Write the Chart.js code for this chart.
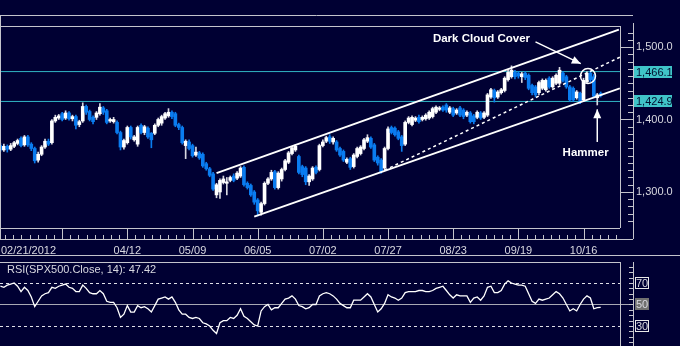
<!DOCTYPE html>
<html>
<head>
<meta charset="utf-8">
<script src="https://cdn.jsdelivr.net/npm/chart.js@4.4.0/dist/chart.umd.min.js"></script>
<style>
  html, body { margin: 0; padding: 0; background: #000033; }
  #wrap { position: relative; width: 680px; height: 346px; overflow: hidden; background: #000033; }
  #wrap canvas { position: absolute; left: 0; }
</style>
</head>
<body>
<div id="wrap">
  <canvas id="priceChart" width="680" height="258" style="top:0"></canvas>
  <canvas id="rsiChart" width="680" height="88" style="top:258px"></canvas>
</div>
<script>
// SPX500 daily candles, one entry per session (index 1 = first bar on screen)
const openPx = [
  1364,1358,1363,1359,1363,1367,1374,1365,1376,1366,1360,1344,1352,1362,1370,1368,1398,1402,1408,1402,
  1409,1401,1404,1393,1398,1418,1411,1403,1403,1408,1416,1412,1398,1397,1396,1382,1362,1368,1389,1372,
  1366,1392,1382,1388,1381,1381,1392,1395,1402,1405,1410,1408,1393,1389,1364,1369,1364,1351,1354,1352,
  1339,1332,1325,1296,1300,1313,1312,1316,1322,1319,1322,1334,1312,1309,1300,1289,1272,1284,1312,1318,
  1328,1306,1318,1331,1341,1353,1358,1349,1335,1333,1314,1318,1334,1331,1364,1370,1376,1369,1369,1360,
  1356,1341,1346,1335,1349,1353,1360,1370,1374,1365,1348,1344,1333,1360,1389,1388,1383,1376,1366,1396,
  1393,1399,1403,1400,1401,1402,1404,1410,1414,1417,1420,1410,1415,1409,1416,1413,1406,1409,1405,1403,
  1409,1403,1406,1431,1440,1431,1437,1440,1455,1459,1465,1464,1459,1464,1461,1447,1445,1437,1443,1441,
  1457,1445,1450,1450,1464,1459,1445,1443,1430,1436,1427,1452,1464,1459,1430,1436
];
const highPx = [
  1367,1366,1365,1367,1370,1373,1376,1378,1378,1368,1362,1355,1364,1373,1373,1400,1406,1407,1410,1412,
  1411,1406,1406,1399,1423,1420,1413,1405,1411,1422,1418,1414,1402,1403,1398,1384,1373,1391,1391,1378,
  1391,1394,1392,1390,1382,1394,1402,1406,1410,1415,1412,1410,1395,1391,1372,1372,1366,1362,1356,1354,
  1341,1334,1327,1312,1318,1322,1320,1322,1325,1328,1335,1336,1314,1311,1302,1291,1286,1314,1320,1330,
  1330,1328,1333,1345,1356,1363,1365,1351,1337,1335,1324,1335,1336,1366,1372,1377,1379,1376,1371,1362,
  1358,1347,1348,1353,1362,1364,1374,1379,1376,1367,1350,1346,1362,1390,1391,1390,1385,1378,1398,1404,
  1405,1404,1406,1405,1408,1412,1417,1419,1418,1419,1422,1418,1417,1415,1418,1415,1412,1411,1407,1412,
  1411,1411,1436,1443,1442,1440,1443,1459,1468,1474,1468,1466,1465,1466,1463,1449,1447,1453,1456,1456,
  1459,1459,1463,1472,1466,1461,1447,1445,1440,1438,1457,1466,1467,1462,1436,1438
];
const lowPx = [
  1356,1356,1355,1357,1361,1365,1362,1363,1363,1357,1340,1341,1350,1360,1364,1366,1396,1400,1398,1400,
  1399,1398,1387,1390,1396,1407,1398,1394,1400,1406,1407,1394,1396,1395,1380,1358,1359,1366,1373,1370,
  1363,1380,1379,1374,1361,1379,1390,1392,1400,1403,1401,1390,1386,1366,1346,1358,1348,1349,1345,1334,
  1330,1321,1302,1292,1291,1311,1296,1314,1314,1317,1320,1308,1304,1294,1283,1267,1268,1282,1310,1316,
  1304,1304,1315,1329,1339,1351,1356,1325,1321,1310,1309,1316,1325,1329,1362,1368,1367,1366,1356,1349,
  1342,1339,1331,1333,1347,1351,1358,1368,1360,1342,1337,1326,1330,1358,1380,1377,1372,1356,1364,1394,
  1391,1397,1395,1398,1399,1400,1402,1408,1412,1411,1410,1408,1404,1407,1404,1401,1404,1395,1394,1401,
  1400,1401,1404,1429,1424,1429,1435,1438,1453,1457,1456,1457,1451,1455,1441,1434,1431,1434,1441,1439,
  1443,1443,1448,1448,1452,1443,1425,1425,1428,1422,1425,1450,1452,1430,1420,1431
];
const closePx = [
  1358,1363,1359,1364,1368,1371,1364,1376,1365,1360,1343,1352,1362,1370,1366,1398,1403,1405,1400,1409,
  1401,1404,1392,1397,1418,1410,1400,1397,1409,1417,1410,1396,1400,1400,1382,1362,1371,1389,1376,1376,
  1389,1382,1390,1376,1372,1392,1400,1404,1408,1410,1404,1392,1389,1368,1370,1360,1350,1355,1347,1336,
  1332,1323,1304,1310,1316,1318,1314,1320,1316,1326,1333,1310,1306,1296,1286,1274,1284,1312,1318,1327,
  1306,1326,1331,1343,1354,1361,1363,1327,1324,1314,1322,1333,1327,1364,1369,1375,1370,1374,1358,1351,
  1344,1345,1334,1351,1360,1362,1372,1375,1362,1344,1340,1328,1360,1387,1382,1379,1374,1364,1396,1402,
  1403,1402,1397,1403,1406,1410,1415,1417,1416,1413,1413,1416,1406,1413,1406,1404,1410,1397,1397,1410,
  1402,1409,1434,1441,1430,1438,1441,1457,1465,1468,1459,1460,1463,1458,1443,1437,1434,1451,1454,1454,
  1445,1457,1461,1468,1454,1445,1427,1427,1438,1424,1454,1464,1455,1432,1434,1433
];
// RSI(14) of the closes
const rsiVals = [
  67,66,68,69,70,67,62,66,63,57,48,53,58,60,61,66,65,67,68,69,
  66,65,62,62,68,65,61,60,60,63,60,53,52,52,47,38,41,49,43,43,
  49,47,48,46,43,49,55,56,57,55,57,52,45,41,41,38,37,38,37,33,
  32,30,26,23,33,35,35,38,37,40,46,39,37,34,31,30,44,48,50,45,
  47,47,51,55,56,58,55,49,48,46,47,50,50,58,60,61,60,58,55,51,
  49,47,47,54,54,54,57,60,57,50,43,46,51,59,57,56,54,56,61,62,
  62,62,63,63,62,62,63,65,66,67,63,59,56,59,58,58,58,52,56,57,
  54,58,66,67,61,61,63,69,72,70,69,68,68,67,60,53,51,55,54,55,
  56,59,62,60,56,50,44,46,44,50,55,58,56,46,47,47.42
];

// x-axis dates: every 19th session
const dateTicks = [0, 19, 38, 57, 76, 95, 114, 133, 152, 171];
const dateLabels = ['02/21/2012', '', '04/12', '05/09', '06/05', '07/02', '07/27', '08/23', '09/19', '10/16'];
const priceLabels = [1300, 1400, 1500];

// horizontal support / resistance
const levels = [1466.1, 1424.9];

// trend channel: [startIdx, startPrice, endIdx, endPrice]
const channelTop = [64, 1326, 181.3, 1524];
const channelBottom = [75, 1266, 181.6, 1443];
const channelMid = [113, 1330, 181.6, 1486];

const rsiLevels = [70, 50, 30];

const xMin = 0.875, xMax = 181.63;
const BG = '#000033';
const FRAME = '#c4c4cc';
const TEXT = '#d8d8e0';
const BLUE = '#0a7cf0';
const TEAL = '#30b4c4';
const FONT = '"Liberation Sans", Arial, sans-serif';

const idx = closePx.map((_, i) => i + 1);
const up = idx.map((_, i) => closePx[i] >= openPx[i]);
const candleColor = up.map(u => u ? '#ffffff' : BLUE);
const wickColor = up.map(u => u ? '#d8d8e0' : BLUE);

function seg(a) {
  return [{ x: a[0], y: a[1] }, { x: a[2], y: a[3] }];
}

function fmtPrice(v) {
  return v.toLocaleString('en-US', { minimumFractionDigits: 1, maximumFractionDigits: 1 });
}

function hline(ctx, x1, x2, y) {
  ctx.beginPath(); ctx.moveTo(x1, Math.round(y) + 0.5); ctx.lineTo(x2, Math.round(y) + 0.5); ctx.stroke();
}
function vline(ctx, x, y1, y2) {
  ctx.beginPath(); ctx.moveTo(Math.round(x) + 0.5, y1); ctx.lineTo(Math.round(x) + 0.5, y2); ctx.stroke();
}

function arrow(ctx, x1, y1, x2, y2) {
  const a = Math.atan2(y2 - y1, x2 - x1);
  ctx.beginPath(); ctx.moveTo(x1, y1); ctx.lineTo(x2, y2); ctx.stroke();
  const len = 9, half = 4;
  ctx.beginPath();
  ctx.moveTo(x2, y2);
  ctx.lineTo(x2 - len * Math.cos(a) + half * Math.sin(a), y2 - len * Math.sin(a) - half * Math.cos(a));
  ctx.lineTo(x2 - len * Math.cos(a) - half * Math.sin(a), y2 - len * Math.sin(a) + half * Math.cos(a));
  ctx.closePath();
  ctx.fill();
}

const bgPlugin = {
  id: 'bg',
  beforeDraw(chart) {
    const ctx = chart.ctx;
    ctx.save();
    ctx.fillStyle = BG;
    ctx.fillRect(0, 0, chart.width, chart.height);
    ctx.restore();
  }
};

// frame, axes and the notes on the price panel
const priceDecor = {
  id: 'priceDecor',
  afterDraw(chart) {
    const ctx = chart.ctx;
    const xs = chart.scales.x, ys = chart.scales.y;
    const a = chart.chartArea;
    const axisX = a.right + 13;
    const stripBottom = a.bottom + 11;
    ctx.save();
    ctx.strokeStyle = FRAME;
    ctx.lineWidth = 1;

    // caption strip and plot frame
    hline(ctx, 0, axisX, 15);
    hline(ctx, 0, a.right, a.top);
    vline(ctx, 0, 15, stripBottom);
    vline(ctx, a.right, a.top, a.bottom);
    hline(ctx, 0, a.right, a.bottom);
    hline(ctx, 0, axisX, stripBottom);
    vline(ctx, axisX, 23, stripBottom);
    hline(ctx, 0, chart.width, 255);

    // price axis ticks
    for (let v = 1260; v <= 1520; v += 10) {
      const y = ys.getPixelForValue(v);
      if (y < a.top || y > a.bottom) continue;
      if (v % 100 === 0) hline(ctx, a.right, axisX, y);
      else hline(ctx, axisX - 5, axisX, y);
    }
    ctx.fillStyle = TEXT;
    ctx.font = '11px ' + FONT;
    ctx.textBaseline = 'middle';
    ctx.textAlign = 'left';
    priceLabels.forEach(v => ctx.fillText(fmtPrice(v), axisX + 3, ys.getPixelForValue(v)));

    // level lines' value tags
    levels.forEach(v => {
      const y = Math.round(ys.getPixelForValue(v));
      ctx.fillStyle = '#40c4c8';
      ctx.fillRect(axisX + 1, y - 6, 38, 12);
      ctx.fillStyle = '#001030';
      ctx.fillText(fmtPrice(v), axisX + 3, y + 0.5);
    });

    // date axis
    const step = 19;
    for (let t = 0; t <= xMax; t += step / 8) {
      const x = xs.getPixelForValue(t);
      if (x < 0 || x > a.right) continue;
      const major = Math.abs(t / step - Math.round(t / step)) < 1e-6;
      if (major) vline(ctx, x, a.bottom, stripBottom);
      else vline(ctx, x, stripBottom - 4, stripBottom);
    }
    ctx.fillStyle = TEXT;
    ctx.textAlign = 'left';
    dateTicks.forEach((t, k) => {
      const txt = dateLabels[k];
      if (!txt) return;
      const w = ctx.measureText(txt).width;
      const x = Math.max(1, xs.getPixelForValue(t) - w / 2);
      ctx.fillText(txt, x, a.bottom + 23);
    });

    // notes
    ctx.strokeStyle = '#ffffff';
    ctx.fillStyle = '#ffffff';
    ctx.lineWidth = 1.5;
    ctx.font = 'bold 11.5px ' + FONT;
    ctx.textAlign = 'right';
    ctx.fillText('Dark Cloud Cover', xs.getPixelForValue(155.4), ys.getPixelForValue(1511));
    arrow(ctx, xs.getPixelForValue(157), ys.getPixelForValue(1507),
      xs.getPixelForValue(170.2), ys.getPixelForValue(1477));
    ctx.beginPath();
    ctx.arc(xs.getPixelForValue(172.3), ys.getPixelForValue(1460), 7.5, 0, Math.PI * 2);
    ctx.stroke();
    arrow(ctx, xs.getPixelForValue(175), ys.getPixelForValue(1369),
      xs.getPixelForValue(175), ys.getPixelForValue(1414));
    ctx.textAlign = 'center';
    ctx.fillText('Hammer', xs.getPixelForValue(171.6), ys.getPixelForValue(1354));
    ctx.restore();
  }
};

new Chart(document.getElementById('priceChart'), {
  type: 'bar',
  data: {
    datasets: [
      {
        type: 'line', order: 1,
        data: seg(channelTop), borderColor: '#ffffff', borderWidth: 2, pointRadius: 0
      },
      {
        type: 'line', order: 1,
        data: seg(channelBottom), borderColor: '#ffffff', borderWidth: 2, pointRadius: 0
      },
      {
        type: 'line', order: 1,
        data: seg(channelMid), borderColor: '#ffffff', borderWidth: 1.5, borderDash: [3, 3], pointRadius: 0
      },
      {
        order: 3, grouped: false, barThickness: 3,
        data: idx.map((x, i) => ({ x, y: [openPx[i], closePx[i]] })),
        backgroundColor: candleColor
      },
      {
        order: 4, grouped: false, barThickness: 1,
        data: idx.map((x, i) => ({ x, y: [lowPx[i], highPx[i]] })),
        backgroundColor: wickColor
      },
      ...levels.map(v => ({
        type: 'line', order: 9,
        data: [{ x: xMin, y: v }, { x: xMax, y: v }],
        borderColor: TEAL, borderWidth: 1, pointRadius: 0
      }))
    ]
  },
  options: {
    responsive: false,
    devicePixelRatio: 1,
    animation: false,
    layout: { padding: { left: 0, right: 60, top: 26, bottom: 30 } },
    plugins: { legend: { display: false }, tooltip: { enabled: false } },
    scales: {
      x: { type: 'linear', min: xMin, max: xMax, offset: false, display: false },
      y: { type: 'linear', min: 1250.3, max: 1529.0, display: false }
    }
  },
  plugins: [bgPlugin, priceDecor]
});

// RSI panel
const rsiDecor = {
  id: 'rsiDecor',
  beforeDatasetsDraw(chart) {
    const ctx = chart.ctx;
    const ys = chart.scales.y;
    const a = chart.chartArea;
    const axisX = a.right + 13;
    ctx.save();
    ctx.lineWidth = 1;
    ctx.strokeStyle = '#a8a8b4';
    hline(ctx, 0, axisX, ys.getPixelForValue(50));
    ctx.strokeStyle = '#e0e0e8';
    ctx.setLineDash([3, 3]);
    hline(ctx, 0, a.right, ys.getPixelForValue(70));
    hline(ctx, 0, a.right, ys.getPixelForValue(30));
    ctx.restore();
  },
  afterDraw(chart) {
    const ctx = chart.ctx;
    const ys = chart.scales.y;
    const a = chart.chartArea;
    const axisX = a.right + 13;
    ctx.save();
    ctx.strokeStyle = FRAME;
    ctx.lineWidth = 1;
    hline(ctx, 0, a.right, a.top);
    vline(ctx, a.right, a.top, chart.height);
    vline(ctx, axisX, a.top, chart.height);
    for (let v = 15; v <= 85; v += 5) {
      const y = ys.getPixelForValue(v);
      if (y < a.top) continue;
      hline(ctx, axisX - 4, axisX, y);
    }
    ctx.font = '11px ' + FONT;
    ctx.textBaseline = 'middle';
    ctx.textAlign = 'left';
    rsiLevels.forEach(v => {
      const y = Math.round(ys.getPixelForValue(v));
      if (v === 50) {
        ctx.fillStyle = '#707070';
        ctx.fillRect(axisX + 2, y - 6, 14, 12);
      } else {
        ctx.strokeStyle = '#e8e8e8';
        ctx.strokeRect(axisX + 2.5, y - 5.5, 13, 11);
      }
      ctx.fillStyle = TEXT;
      ctx.fillText(String(v), axisX + 3, y + 0.5);
    });
    ctx.fillStyle = TEXT;
    ctx.fillText('RSI(SPX500.Close, 14): ' + rsiVals[rsiVals.length - 1].toFixed(2), 7, a.top + 8);
    ctx.restore();
  }
};

new Chart(document.getElementById('rsiChart'), {
  type: 'line',
  data: {
    datasets: [{
      data: idx.map((x, i) => ({ x, y: rsiVals[i] })),
      borderColor: '#ffffff', borderWidth: 1.3, pointRadius: 0, tension: 0
    }]
  },
  options: {
    responsive: false,
    devicePixelRatio: 1,
    animation: false,
    layout: { padding: { left: 0, right: 60, top: 4, bottom: 0 } },
    plugins: { legend: { display: false }, tooltip: { enabled: false } },
    scales: {
      x: { type: 'linear', min: xMin, max: xMax, display: false },
      y: { type: 'linear', min: 11.4, max: 89.53, display: false }
    }
  },
  plugins: [bgPlugin, rsiDecor]
});
</script>
</body>
</html>
